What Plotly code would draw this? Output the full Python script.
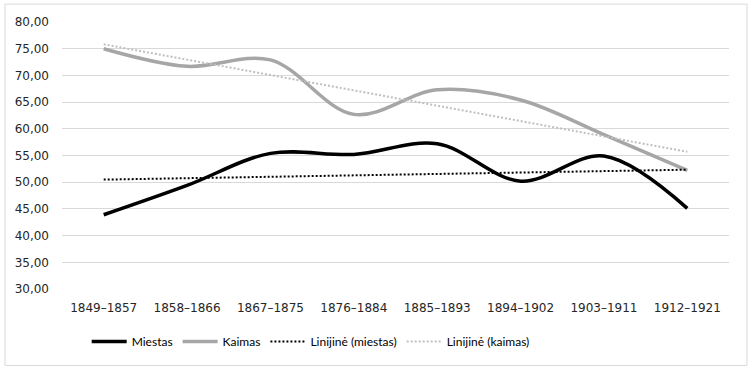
import numpy as np
import plotly.graph_objects as go

categories = ["1849–1857", "1858–1866", "1867–1875", "1876–1884",
              "1885–1893", "1894–1902", "1903–1911", "1912–1921"]
miestas = [43.9, 49.4, 55.4, 55.2, 57.2, 50.2, 54.9, 45.1]
kaimas = [75.0, 71.7, 72.9, 62.7, 67.3, 65.4, 58.9, 52.2]
y_ticks = [30, 35, 40, 45, 50, 55, 60, 65, 70, 75, 80]
y_tick_labels = ["30,00", "35,00", "40,00", "45,00", "50,00", "55,00",
                 "60,00", "65,00", "70,00", "75,00", "80,00"]


def linear_trend(values):
    idx = np.arange(1, len(values) + 1)
    slope, intercept = np.polyfit(idx, values, 1)
    return list(slope * idx + intercept)


trend_m = linear_trend(miestas)
trend_k = linear_trend(kaimas)

tick_font = dict(family="'DejaVu Sans', Verdana, sans-serif", size=12, color="#262626")

fig = go.Figure()
fig.add_trace(go.Scatter(x=categories, y=miestas, name="Miestas", mode="lines",
                         line=dict(color="#000000", width=3.5, shape="spline", smoothing=1.0)))
fig.add_trace(go.Scatter(x=categories, y=kaimas, name="Kaimas", mode="lines",
                         line=dict(color="#a6a6a6", width=3.5, shape="spline", smoothing=1.0)))
fig.add_trace(go.Scatter(x=categories, y=trend_m, name="Linijinė (miestas)", mode="lines",
                         line=dict(color="#000000", width=2, dash="2px,2px")))
fig.add_trace(go.Scatter(x=categories, y=trend_k, name="Linijinė (kaimas)", mode="lines",
                         line=dict(color="#bfbfbf", width=2, dash="2px,2px")))

fig.update_layout(
    width=754, height=373,
    margin=dict(l=62, r=25, t=22, b=84),
    paper_bgcolor="white", plot_bgcolor="white",
    font=dict(family="Lato, 'Open Sans', sans-serif", size=12, color="#000000"),
    showlegend=True,
    legend=dict(orientation="h", x=0.037, xanchor="left", y=-0.197, yanchor="middle",
                font=dict(family="Lato, sans-serif", size=12, color="#000000"),
                itemwidth=35, tracegroupgap=0),
    xaxis=dict(type="category", showgrid=False, showline=False, ticks="",
               tickfont=tick_font, range=[-0.5, 7.5], ticklabelstandoff=10),
    yaxis=dict(range=[30, 80], tickvals=y_ticks, ticktext=y_tick_labels,
               showgrid=True, gridcolor="#d9d9d9", gridwidth=1, zeroline=False,
               showline=False, ticks="", tickfont=tick_font, ticklabelstandoff=12),
    shapes=[dict(type="rect", xref="paper", yref="paper",
                 x0=-0.0855, x1=1.027, y0=-0.2865, y1=1.067,
                 line=dict(color="#d9d9d9", width=1), fillcolor="rgba(0,0,0,0)")],
)

fig.write_html("out.html", config={"displayModeBar": False},
               post_script="document.body.style.margin='0';")
